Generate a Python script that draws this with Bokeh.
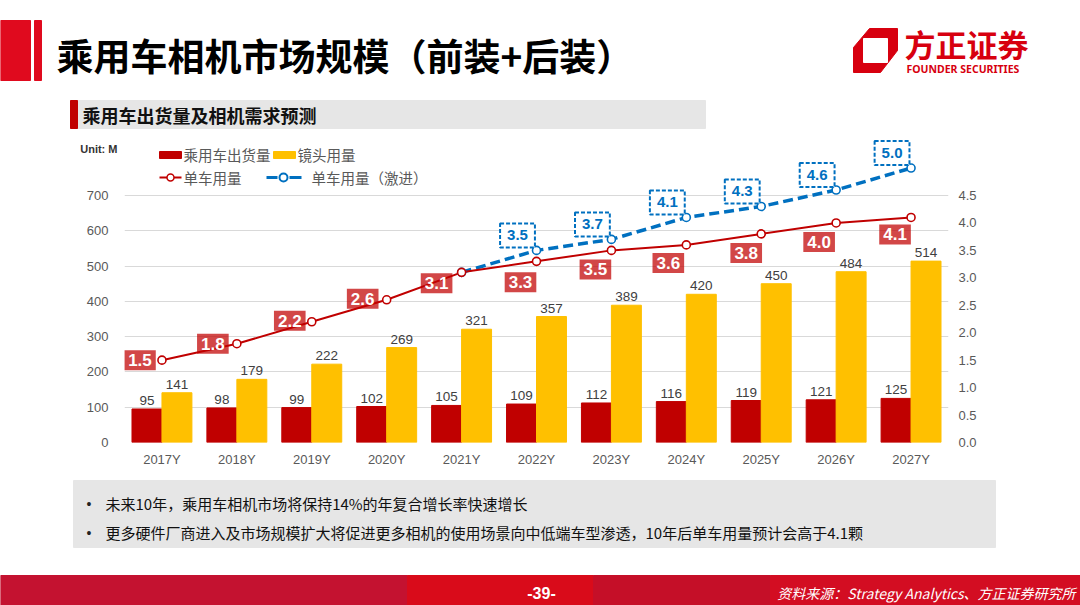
from bokeh.core.properties import value
from bokeh.embed import file_html
from bokeh.layouts import column
from bokeh.models import (ColumnDataSource, FactorRange, FixedTicker, LinearAxis,
                          NumeralTickFormatter, Range1d)
from bokeh.plotting import figure
from bokeh.resources import INLINE
from bokeh.transform import dodge

years = ["2017Y", "2018Y", "2019Y", "2020Y", "2021Y", "2022Y",
         "2023Y", "2024Y", "2025Y", "2026Y", "2027Y"]
car_shipments = [95, 98, 99, 102, 105, 109, 112, 116, 119, 121, 125]
lens_usage = [141, 179, 222, 269, 321, 357, 389, 420, 450, 484, 514]
cams_per_car = [1.5, 1.8, 2.2, 2.6, 3.1, 3.3, 3.5, 3.6, 3.8, 4.0, 4.1]
aggr_years = years[4:]
cams_per_car_aggr = [3.1, 3.5, 3.7, 4.1, 4.3, 4.6, 5.0]
left_ticks = [0, 100, 200, 300, 400, 500, 600, 700]
right_ticks = [0.0, 0.5, 1.0, 1.5, 2.0, 2.5, 3.0, 3.5, 4.0, 4.5]
unit_label = "Unit: M"

title_text = "乘用车相机市场规模（前装+后装）"
subtitle_text = "乘用车出货量及相机需求预测"
legend_labels = ["乘用车出货量", "镜头用量", "单车用量", "单车用量（激进）"]
bullets = ["未来10年，乘用车相机市场将保持14%的年复合增长率快速增长",
           "更多硬件厂商进入及市场规模扩大将促进更多相机的使用场景向中低端车型渗透，10年后单车用量预计会高于4.1颗"]
page_no = "-39-"
source_text = "资料来源：Strategy Analytics、方正证券研究所"

# pixel offsets of the red value boxes relative to their points
red_dx = [-22, -24, -22, -24, -25, -16, -16, -18, -15, -17, -16]
red_dy = [0, 0, -1, -1, 11, 21, 19, 18, 19, 19, 17]

RED = "#C00000"
YELLOW = "#FFC000"
BLUE = "#0070C0"
GREY = "#595959"
CJK = value("Noto Sans CJK SC")
LAT = value("Liberation Sans")
W = 1080
FRAME_W = 824   # chart frame from x=124 to x=948
FRAME_H = 307   # chart frame from y=135 to y=442


def blank(height):
    f = figure(width=W, height=height, x_range=Range1d(0, W), y_range=Range1d(height, 0),
               x_axis_type=None, y_axis_type=None, tools="", toolbar_location=None,
               output_backend="svg", min_border=0, frame_align=False)
    f.grid.visible = False
    f.outline_line_color = None
    return f


def fx(pix):
    # frame pixel -> synthetic categorical coordinate
    return [v * len(years) / FRAME_W for v in pix]


# ---- header ----
h = blank(130)
h.quad(left=[0, 34], right=[30, 41], top=[20, 20], bottom=[80, 80], color="#E00A1E")
h.text(x=[56], y=[54], text=[title_text], text_font=CJK, text_font_style="bold",
       text_font_size="37px", text_baseline="middle", text_color="black")
h.quad(left=[70], right=[705], top=[100], bottom=[128], color="#E6E6E6")
h.quad(left=[70], right=[77], top=[100], bottom=[128], color="#C00000")
h.text(x=[82], y=[114], text=[subtitle_text], text_font=CJK, text_font_style="bold",
       text_font_size="18px", text_baseline="middle", text_color="#111111")
h.patch(x=[853, 869, 897, 897, 880, 853], y=[47, 28, 28, 50, 72, 72], color="#D7000F")
h.quad(left=[863], right=[887], top=[38], bottom=[62], color="white")
h.text(x=[904], y=[43], text=["方正证券"], text_font=CJK, text_font_style="bold",
       text_font_size="31px", text_baseline="middle", text_color="#D7000F")
h.text(x=[906], y=[68], text=["FOUNDER SECURITIES"], text_font=value("Noto Sans"),
       text_font_style="bold", text_font_size="10.5px", text_baseline="middle",
       text_color="#D7000F")

# ---- chart ----
p = figure(width=W, height=340, x_range=FactorRange(*years), y_range=Range1d(0, 870),
           tools="", toolbar_location=None, output_backend="svg", frame_align=False,
           min_border_left=124, min_border_right=132, min_border_top=5, min_border_bottom=28)
p.extra_y_ranges = {"right": Range1d(0, 5.593), "py": Range1d(FRAME_H, 0)}
p.outline_line_color = None
p.xgrid.visible = False
p.ygrid.grid_line_color = "#D9D9D9"
p.ygrid.ticker = FixedTicker(ticks=left_ticks)

p.yaxis.ticker = FixedTicker(ticks=left_ticks)
ra = LinearAxis(y_range_name="right", ticker=FixedTicker(ticks=right_ticks),
                formatter=NumeralTickFormatter(format="0.0"))
p.add_layout(ra, "right")
# "Unit: M" as the single label of an outer left axis
unit_y = 833
ua = LinearAxis(ticker=FixedTicker(ticks=[unit_y]), major_label_overrides={unit_y: unit_label})
p.add_layout(ua, "left")
for ax in p.axis:
    ax.axis_line_color = None
    ax.major_tick_line_color = None
    ax.minor_tick_line_color = None
    ax.major_tick_out = 0
    ax.major_tick_in = 0
    ax.minor_tick_out = 0
    ax.major_label_text_color = GREY
    ax.major_label_text_font = "Liberation Sans"
    ax.major_label_text_font_size = "13px"
p.yaxis[0].major_label_standoff = 16
ra.major_label_standoff = 10
p.xaxis.major_label_standoff = 9
ua.major_label_text_font_style = "bold"
ua.major_label_text_font_size = "11px"
ua.major_label_text_color = "#333333"
ua.major_label_standoff = -34

bars = ColumnDataSource(dict(year=years, ship=car_shipments, lens=lens_usage,
                             ship_txt=[str(v) for v in car_shipments],
                             lens_txt=[str(v) for v in lens_usage]))
p.vbar(x=dodge("year", -0.2, range=p.x_range), top="ship", width=0.4, source=bars, color=RED)
p.vbar(x=dodge("year", 0.2, range=p.x_range), top="lens", width=0.4, source=bars, color=YELLOW)
for col, off in (("ship", -0.2), ("lens", 0.2)):
    p.text(x=dodge("year", off, range=p.x_range), y=col, text=col + "_txt", source=bars,
           y_offset=-4, text_align="center", text_baseline="bottom", text_font=LAT,
           text_font_size="13.5px", text_color="#404040")

base = ColumnDataSource(dict(year=years, v=cams_per_car, dx=red_dx, dy=red_dy,
                             txt=[f"{v:.1f}" for v in cams_per_car]))
aggr = ColumnDataSource(dict(year=aggr_years, v=cams_per_car_aggr))
aggr_lbl = ColumnDataSource(dict(year=aggr_years[1:], v=cams_per_car_aggr[1:],
                                 txt=[f"{v:.1f}" for v in cams_per_car_aggr[1:]]))
p.line("year", "v", source=aggr, y_range_name="right", color=BLUE, line_width=3.5, line_dash="10 5")
p.line("year", "v", source=base, y_range_name="right", color=RED, line_width=2)
p.scatter("year", "v", source=aggr, y_range_name="right", size=8, fill_color="white",
          line_color=BLUE, line_width=1.6)
p.scatter("year", "v", source=base, y_range_name="right", size=8, fill_color="white",
          line_color=RED, line_width=1.6)
p.text("year", "v", text="txt", source=base, y_range_name="right", x_offset="dx", y_offset="dy",
       text_align="center", text_baseline="middle", text_font=LAT, text_font_style="bold",
       text_font_size="17px", text_color="white", background_fill_color=RED,
       background_fill_alpha=0.72, padding=4)
p.text("year", "v", text="txt", source=aggr_lbl, y_range_name="right", x_offset=-19, y_offset=-15,
       text_align="center", text_baseline="middle", text_font=LAT, text_font_style="bold",
       text_font_size="15px", text_color=BLUE, background_fill_color="white",
       border_line_color=BLUE, border_line_width=2, border_line_dash="4 2", padding=7)

# legend drawn in frame pixels (x via synthetic coordinates, y via "py")
py = dict(y_range_name="py")
p.rect(x=fx([46, 160]), y=[19.5, 19.5], width=fx([22])[0], height=7, color=[RED, YELLOW], **py)
p.line(x=fx([35, 57]), y=[42, 42], color=RED, line_width=2, **py)
p.scatter(x=fx([46]), y=[42], size=7, fill_color="white", line_color=RED, line_width=1.5, **py)
p.segment(x0=fx([142, 165]), y0=[42, 42], x1=fx([153, 177]), y1=[42, 42], color=BLUE,
          line_width=3, **py)
p.scatter(x=fx([159]), y=[42], size=8, fill_color="white", line_color=BLUE, line_width=2, **py)
p.text(x=fx([59, 173, 59, 187]), y=[19, 19, 42, 42], text=legend_labels,
       text_font=CJK, text_font_size="14.5px", text_color=GREY, text_baseline="middle", **py)

# ---- bottom ----
b = blank(135)
b.quad(left=[73], right=[995], top=[10], bottom=[77], color="#E6E6E6")
b.text(x=[86, 86], y=[33, 62], text=["•", "•"], text_font=LAT, text_font_size="14px",
       text_baseline="middle", text_color="#222222")
b.text(x=[105, 105], y=[33, 62], text=bullets, text_font=CJK, text_font_size="15px",
       text_baseline="middle", text_color="#111111")
b.quad(left=[0, 407, 593, 770], right=[407, 593, 770, W], top=[105] * 4, bottom=[135] * 4,
       color=["#C41230", "#D90B1A", "#C50F28", "#D30D22"])
b.text(x=[541], y=[122], text=[page_no], text_font=LAT, text_font_style="bold",
       text_font_size="16px", text_align="center", text_baseline="middle", text_color="white")
b.text(x=[1075], y=[122], text=[source_text], text_font=CJK, text_font_style="italic",
       text_font_size="14px", text_align="right", text_baseline="middle", text_color="white")

layout = column(h, p, b, spacing=0)
open("out.html", "w").write(file_html(layout, INLINE))
